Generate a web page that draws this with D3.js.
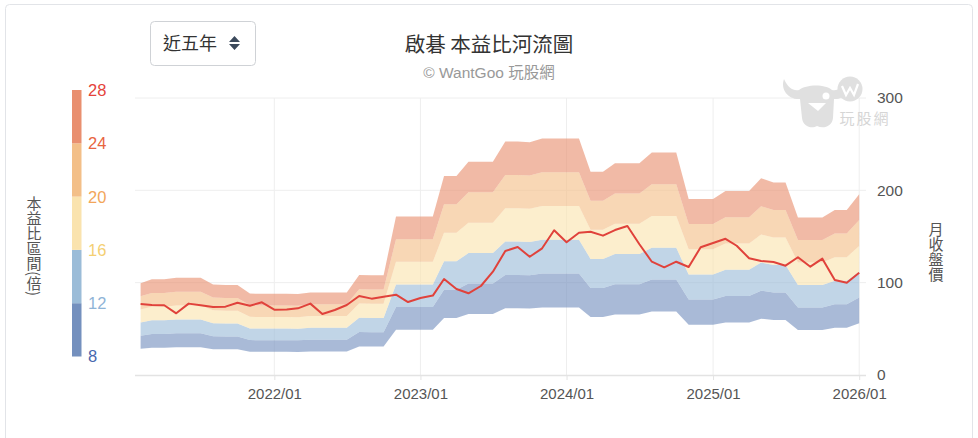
<!DOCTYPE html>
<html>
<head>
<meta charset="utf-8">
<script src="https://cdn.jsdelivr.net/npm/d3@7/dist/d3.min.js"></script>
<style>
  html, body { margin: 0; padding: 0; background: #fff; }
  svg { display: block; font-family: "Liberation Sans", "Noto Sans CJK TC", sans-serif; }
</style>
</head>
<body>
<svg id="chart" width="978" height="438"></svg>
<script>
// ---- data ----
const peLevels = [8, 12, 16, 20, 24, 28];
const months = [
  "2021/02","2021/03","2021/04","2021/05","2021/06","2021/07","2021/08","2021/09","2021/10","2021/11","2021/12",
  "2022/01","2022/02","2022/03","2022/04","2022/05","2022/06","2022/07","2022/08","2022/09","2022/10","2022/11","2022/12",
  "2023/01","2023/02","2023/03","2023/04","2023/05","2023/06","2023/07","2023/08","2023/09","2023/10","2023/11","2023/12",
  "2024/01","2024/02","2024/03","2024/04","2024/05","2024/06","2024/07","2024/08","2024/09","2024/10","2024/11","2024/12",
  "2025/01","2025/02","2025/03","2025/04","2025/05","2025/06","2025/07","2025/08","2025/09","2025/10","2025/11","2025/12",
  "2026/01"
];
// trailing EPS (band base)
const eps = [
  3.55, 3.70, 3.70, 3.76, 3.76, 3.76, 3.50, 3.48, 3.48, 3.15, 3.14,
  3.14, 3.14, 3.13, 3.19, 3.19, 3.19, 3.19, 3.87, 3.86, 3.86, 6.13, 6.13,
  6.13, 6.13, 7.70, 7.70, 8.25, 8.25, 8.25, 9.03, 9.03, 9.00, 9.15, 9.15,
  9.15, 9.15, 7.86, 7.86, 8.19, 8.19, 8.19, 8.61, 8.61, 8.61, 6.81, 6.81,
  6.81, 7.12, 7.12, 7.12, 7.61, 7.45, 7.45, 6.09, 6.09, 6.09, 6.38, 6.38,
  6.99
];
// monthly close price
const price = [
  76.9, 75.8, 75.5, 66.8, 77.3, 75.5, 73.6, 74.0, 78.3, 75.0, 78.7,
  70.8, 70.9, 72.2, 77.3, 66.1, 70.4, 75.8, 85.6, 82.7, 84.8, 87.0, 79.0,
  83.4, 86.0, 104.0, 93.1, 88.5, 96.4, 111.9, 134.3, 138.6, 128.1, 137.2, 156.7,
  143.7, 154.1, 155.2, 150.9, 157.0, 161.4, 141.6, 122.7, 116.6, 122.7, 117.0, 138.3,
  143.0, 147.5, 140.0, 126.4, 123.5, 122.4, 118.4, 127.5, 117.3, 126.0, 102.9, 100.0,
  110.8
];
const priceTicks = [0, 100, 200, 300];
const xTickLabels = ["2022/01", "2023/01", "2024/01", "2025/01", "2026/01"];
const legendColors = ["#7490BE", "#9BBCD8", "#FAE3AE", "#F3BF88", "#E98F6F"];
const legendLabelColors = ["#4667AE", "#8FB4D7", "#F4CF72", "#F2A65A", "#E8653F", "#E5433A"];

// ---- chart ----
const svg = d3.select("#chart");
const parse = d3.timeParse("%Y/%m");
const dates = months.map(parse);

const plotLeft = 135, plotRight = 866, plotTop = 98, plotBottom = 375;

const x = d3.scaleTime()
  .domain([new Date(2021, 0, 18), new Date(2026, 0, 18)])
  .range([plotLeft, plotRight]);
const y = d3.scaleLinear().domain([0, 300]).range([plotBottom, plotTop]);

// outer frame
svg.append("rect").attr("x", 5.5).attr("y", 4.5).attr("width", 967).attr("height", 450)
  .attr("rx", 4).attr("fill", "none").attr("stroke", "#e2e4e8");

// gridlines horizontal
svg.append("g").selectAll("line").data(priceTicks.filter(d => d > 0)).join("line")
  .attr("x1", plotLeft).attr("x2", plotRight)
  .attr("y1", d => y(d)).attr("y2", d => y(d))
  .attr("stroke", "#eeeeee").attr("stroke-width", 1);

// vertical gridlines
const xTickDates = xTickLabels.map(parse);
svg.append("g").selectAll("line").data(xTickDates).join("line")
  .attr("x1", d => x(d)).attr("x2", d => x(d))
  .attr("y1", plotTop).attr("y2", plotBottom)
  .attr("stroke", "#eeeeee").attr("stroke-width", 1);

// watermark
const wm = svg.append("g").attr("fill", "#e0e0e0");
wm.append("path").attr("d",
  "M784,79 C780,90 789,100 800,99 L802,118 C803,127 812,129 817,126 C823,129 832,127 833,118 L834,99 C844,100 851,90 847,79 C843,88 838,91 832,90 C826,84 806,84 799,90 C793,91 788,88 784,79 Z");
wm.append("circle").attr("cx", 850).attr("cy", 89).attr("r", 12.5);
wm.append("path").attr("d", "M842,86 L846,95 L850,88 L854,95 L858,84").attr("fill", "none")
  .attr("stroke", "#fff").attr("stroke-width", 2.2);
wm.append("path").attr("d", "M808,103 L826,103 L818,111 Z").attr("fill", "#fff");
wm.append("circle").attr("cx", 826).attr("cy", 96).attr("r", 3.5).attr("fill", "#fff");
wm.append("text").attr("x", 865).attr("y", 124).attr("text-anchor", "middle")
  .attr("font-size", 15).attr("fill", "#d6d6d6").attr("letter-spacing", 2).text("玩股網");

// bands
const bandG = svg.append("g");
for (let k = 0; k < peLevels.length - 1; k++) {
  const area = d3.area()
    .x((d, i) => x(dates[i]))
    .y0((d, i) => y(eps[i] * peLevels[k]))
    .y1((d, i) => y(eps[i] * peLevels[k + 1]));
  bandG.append("path").datum(eps).attr("d", area)
    .attr("fill", legendColors[k]).attr("fill-opacity", 0.62);
}

// price line
const line = d3.line().x((d, i) => x(dates[i])).y(d => y(d));
svg.append("path").datum(price).attr("d", line)
  .attr("fill", "none").attr("stroke", "#E0423B").attr("stroke-width", 2)
  .attr("stroke-linejoin", "round");

// x axis
const xAxis = d3.axisBottom(x).tickValues(xTickDates).tickFormat(d3.timeFormat("%Y/%m"))
  .tickSize(5).tickPadding(8);
const xg = svg.append("g").attr("transform", `translate(0,${plotBottom})`).call(xAxis);
xg.select(".domain").remove();
xg.selectAll(".tick line").attr("stroke", "#e3e3e3");
xg.selectAll(".tick text").attr("font-size", 15).attr("fill", "#555").attr("font-family", "Liberation Sans, sans-serif");
svg.append("line").attr("x1", plotLeft).attr("x2", plotRight)
  .attr("y1", plotBottom + 0.5).attr("y2", plotBottom + 0.5)
  .attr("stroke", "#e3e3e3").attr("stroke-width", 1.6);

// right axis
const yAxis = d3.axisRight(y).tickValues(priceTicks).tickSize(0).tickPadding(11);
const yg = svg.append("g").attr("transform", `translate(${plotRight},0)`).call(yAxis);
yg.select(".domain").remove();
yg.selectAll(".tick text").attr("font-size", 15.5).attr("fill", "#555").attr("font-family", "Liberation Sans, sans-serif");

// right axis title
svg.append("text").attr("x", 936).attr("y", 252)
  .style("writing-mode", "vertical-rl").attr("text-anchor", "middle")
  .attr("dominant-baseline", "central")
  .attr("font-size", 15).attr("fill", "#555").attr("font-family", "Noto Sans CJK TC, sans-serif")
  .text("月收盤價");

// left legend colour bar
const lg = d3.scaleLinear().domain([8, 28]).range([356.5, 90]);
svg.append("g").selectAll("rect").data(legendColors).join("rect")
  .attr("x", 72).attr("width", 9.5)
  .attr("y", (d, i) => lg(peLevels[i + 1]))
  .attr("height", (d, i) => lg(peLevels[i]) - lg(peLevels[i + 1]))
  .attr("fill", d => d);
svg.append("g").selectAll("text").data(peLevels).join("text")
  .attr("x", 88).attr("y", d => lg(d)).attr("dy", "0.36em")
  .attr("font-size", 16.5).attr("fill", (d, i) => legendLabelColors[i])
  .text(d => d);

svg.append("text").attr("x", 34).attr("y", 246)
  .style("writing-mode", "vertical-rl").attr("text-anchor", "middle")
  .attr("dominant-baseline", "central")
  .attr("font-size", 15).attr("fill", "#555").attr("font-family", "Noto Sans CJK TC, sans-serif")
  .text("本益比區間(倍)");

// title
svg.append("text").attr("x", 489).attr("y", 52).attr("text-anchor", "middle")
  .attr("font-size", 20.5).attr("fill", "#333").attr("font-family", "Noto Sans CJK TC, sans-serif")
  .text("啟碁 本益比河流圖");
svg.append("text").attr("x", 489).attr("y", 78).attr("text-anchor", "middle")
  .attr("font-size", 15.5).attr("fill", "#999")
  .text("© WantGoo 玩股網");

// range select button
svg.append("rect").attr("x", 150.5).attr("y", 21.5).attr("width", 105).attr("height", 44)
  .attr("rx", 4).attr("fill", "#fff").attr("stroke", "#cfd2d6");
svg.append("text").attr("x", 163).attr("y", 50).attr("font-size", 18).attr("fill", "#333")
  .attr("font-family", "Noto Sans CJK TC, sans-serif").text("近五年");
svg.append("path").attr("d", "M229,42 L234.5,36 L240,42 Z M229,44 L234.5,50 L240,44 Z").attr("fill", "#3c4a5c");
</script>
</body>
</html>
